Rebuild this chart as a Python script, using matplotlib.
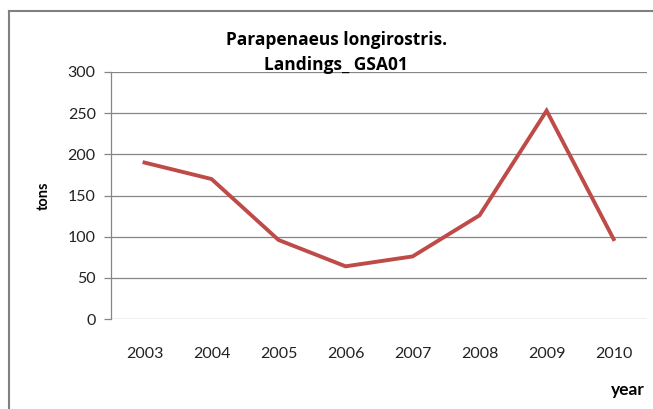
import matplotlib.pyplot as plt
from matplotlib.lines import Line2D

# Landings data
years = ["2003", "2004", "2005", "2006", "2007", "2008", "2009", "2010"]
tons = [190, 170, 96, 64, 76, 126, 253, 97]
yticks = [0, 50, 100, 150, 200, 250, 300]

plt.rcParams["font.family"] = ["Lato", "DejaVu Sans"]

fig = plt.figure(figsize=(6.53, 4.09), dpi=100)
ax = fig.add_axes([0.170, 0.220, 0.821, 0.604])

x = list(range(len(years)))
ax.plot(x, tons, color="#BE4B48", linewidth=2.8, solid_joinstyle="miter", zorder=3)

ax.set_xlim(-0.5, len(years) - 0.5)
ax.set_ylim(0, 300)
ax.set_yticks(yticks)
ax.set_xticks(x)
ax.set_xticklabels(years)

# horizontal gridlines only
ax.yaxis.grid(True, color="#868686", linewidth=0.9)
ax.set_axisbelow(True)
for s in ["top", "right", "bottom"]:
    ax.spines[s].set_visible(False)
ax.spines["left"].set_color("#868686")
ax.spines["left"].set_linewidth(0.9)

ax.tick_params(axis="y", length=5, color="#868686", width=0.9, pad=6, labelsize=11.5,
               labelcolor="#222222")
ax.tick_params(axis="x", length=0, pad=20, labelsize=11.5, labelcolor="#222222")

ax.set_ylabel("tons", fontsize=10.5, fontweight="bold", labelpad=12)

title_font = dict(family=["Open Sans", "DejaVu Sans"], fontsize=12.5, fontweight="bold")
fig.text(0.515, 0.902, "Parapenaeus longirostris.", ha="center", va="center", **title_font)
fig.text(0.515, 0.841, "Landings_ GSA01", ha="center", va="center", **title_font)
fig.text(0.961, 0.047, "year", ha="center", va="center", fontsize=12.5, fontweight="bold")

# chart border (only top and left visible)
bx, by = 9 / 653, (409 - 11) / 409
fig.add_artist(Line2D([bx, bx], [0, by], color="#808080", linewidth=1.5, transform=fig.transFigure))
fig.add_artist(Line2D([bx, 1], [by, by], color="#808080", linewidth=1.5, transform=fig.transFigure))

plt.savefig("out.png", dpi=100)
